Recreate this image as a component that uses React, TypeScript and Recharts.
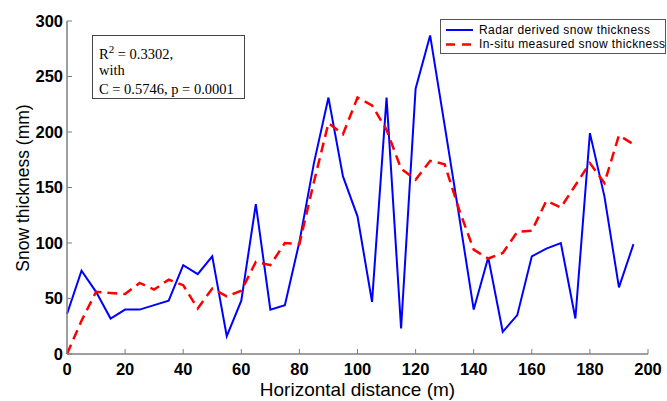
import { Legend, Line, LineChart, XAxis, YAxis } from 'recharts'

// distance along the transect (m)
const distance = [
  0, 5, 10, 15, 20, 25, 30, 35, 40, 45, 50, 55, 60, 65, 70, 75, 80, 85, 90, 95,
  100, 105, 110, 115, 120, 125, 130, 135, 140, 145, 150, 155, 160, 165, 170, 175, 180, 185, 190, 195,
]

// radar derived snow thickness (mm)
const radar = [
  36, 75, 56, 32, 40, 40, 44, 48, 80, 72, 88, 16, 48, 135, 40, 44, 101, 172, 231, 160,
  124, 47, 231, 23, 239, 287, 206, 124, 40, 87, 20, 35, 88, 95, 100, 32, 199, 142, 60, 99,
]

// in-situ measured snow thickness (mm)
const insitu = [
  0, 30, 56, 55, 54, 64, 58, 67, 62, 41, 59, 52, 57, 83, 80, 100, 99, 155, 208, 198,
  231, 224, 202, 167, 157, 174, 171, 130, 94, 86, 91, 110, 111, 138, 132, 152, 172, 154, 197, 189,
]

const xTicks = [0, 20, 40, 60, 80, 100, 120, 140, 160, 180, 200]
const yTicks = [0, 50, 100, 150, 200, 250, 300]

const data = distance.map((d, i) => ({ distance: d, radar: radar[i], insitu: insitu[i] }))

const axisColor = '#7f7f7f'
const sans = 'Liberation Sans, Arial, sans-serif'
const tickStyle = { fill: '#000', fontSize: 16.5, fontWeight: 700, fontFamily: sans }

function LegendBox() {
  return (
    <div
      style={{
        width: 226,
        height: 35,
        border: '1px solid #555',
        background: '#fff',
        fontFamily: sans,
        fontSize: 12,
        color: '#000',
        boxSizing: 'border-box',
        position: 'relative',
      }}
    >
      <svg width={40} height={33} style={{ position: 'absolute', left: 0, top: 0 }}>
        <line x1={5} x2={32} y1={10} y2={10} stroke="#0000ff" strokeWidth={2} />
        <line x1={5} x2={32} y1={24.5} y2={24.5} stroke="#ff0000" strokeWidth={2.5} strokeDasharray="9 7" />
      </svg>
      <div style={{ position: 'absolute', left: 38, top: 3, whiteSpace: 'nowrap', letterSpacing: 0.4 }}>
        Radar derived snow thickness
      </div>
      <div style={{ position: 'absolute', left: 38, top: 17, whiteSpace: 'nowrap', letterSpacing: 0.4 }}>
        In-situ measured snow thickness
      </div>
    </div>
  )
}

export default function App() {
  return (
    <div style={{ position: 'absolute', left: 0, top: 0, width: 667, height: 401, overflow: 'hidden', background: '#fff' }}>
      <LineChart width={667} height={401} data={data} margin={{ top: 21, right: 19, bottom: 0, left: 0 }}>
        <XAxis
          dataKey="distance"
          type="number"
          domain={[0, 200]}
          ticks={xTicks}
          height={47}
          tickSize={-5}
          tickMargin={14}
          axisLine={{ stroke: axisColor, strokeWidth: 1.5 }}
          tickLine={{ stroke: axisColor, strokeWidth: 1 }}
          tick={tickStyle}
          label={{
            value: 'Horizontal distance (m)',
            position: 'insideBottom',
            offset: 5,
            style: { fill: '#000', fontSize: 19, fontFamily: sans },
          }}
        />
        <YAxis
          type="number"
          domain={[0, 300]}
          ticks={yTicks}
          width={67}
          tickSize={-5}
          tickMargin={9}
          axisLine={{ stroke: axisColor, strokeWidth: 1.5 }}
          tickLine={{ stroke: axisColor, strokeWidth: 1 }}
          tick={tickStyle}
          label={{
            content: () => (
              <text
                x={23}
                y={188}
                transform="rotate(-90 23 188)"
                textAnchor="middle"
                dominantBaseline="central"
                fill="#000"
                fontSize={17.5}
                fontFamily={sans}
              >
                Snow thickness (mm)
              </text>
            ),
          }}
        />
        <Legend
          layout="vertical"
          align="center"
          verticalAlign="middle"
          wrapperStyle={{ top: 19, left: 440, width: 226 }}
          content={() => <LegendBox />}
        />
        <Line
          type="linear"
          dataKey="radar"
          name="Radar derived snow thickness"
          stroke="#0000ff"
          strokeWidth={2}
          dot={false}
          isAnimationActive={false}
        />
        <Line
          type="linear"
          dataKey="insitu"
          name="In-situ measured snow thickness"
          stroke="#ff0000"
          strokeWidth={2.5}
          strokeDasharray="10 6"
          dot={false}
          isAnimationActive={false}
        />
      </LineChart>
      <div
        style={{
          position: 'absolute',
          left: 92,
          top: 35,
          width: 153,
          height: 64,
          border: '1px solid #444',
          boxSizing: 'border-box',
          background: '#fff',
          fontFamily: 'Liberation Serif, Times New Roman, serif',
          fontSize: 14.5,
          color: '#000',
          lineHeight: 1,
        }}
      >
        <div style={{ position: 'absolute', left: 6, top: 11, whiteSpace: 'nowrap' }}>
          R<sup style={{ fontSize: 11, verticalAlign: 0, position: 'relative', top: -6 }}>2</sup> = 0.3302,
        </div>
        <div style={{ position: 'absolute', left: 6, top: 27, whiteSpace: 'nowrap' }}>with</div>
        <div style={{ position: 'absolute', left: 6, top: 46, whiteSpace: 'nowrap' }}>C = 0.5746, p = 0.0001</div>
      </div>
    </div>
  )
}
